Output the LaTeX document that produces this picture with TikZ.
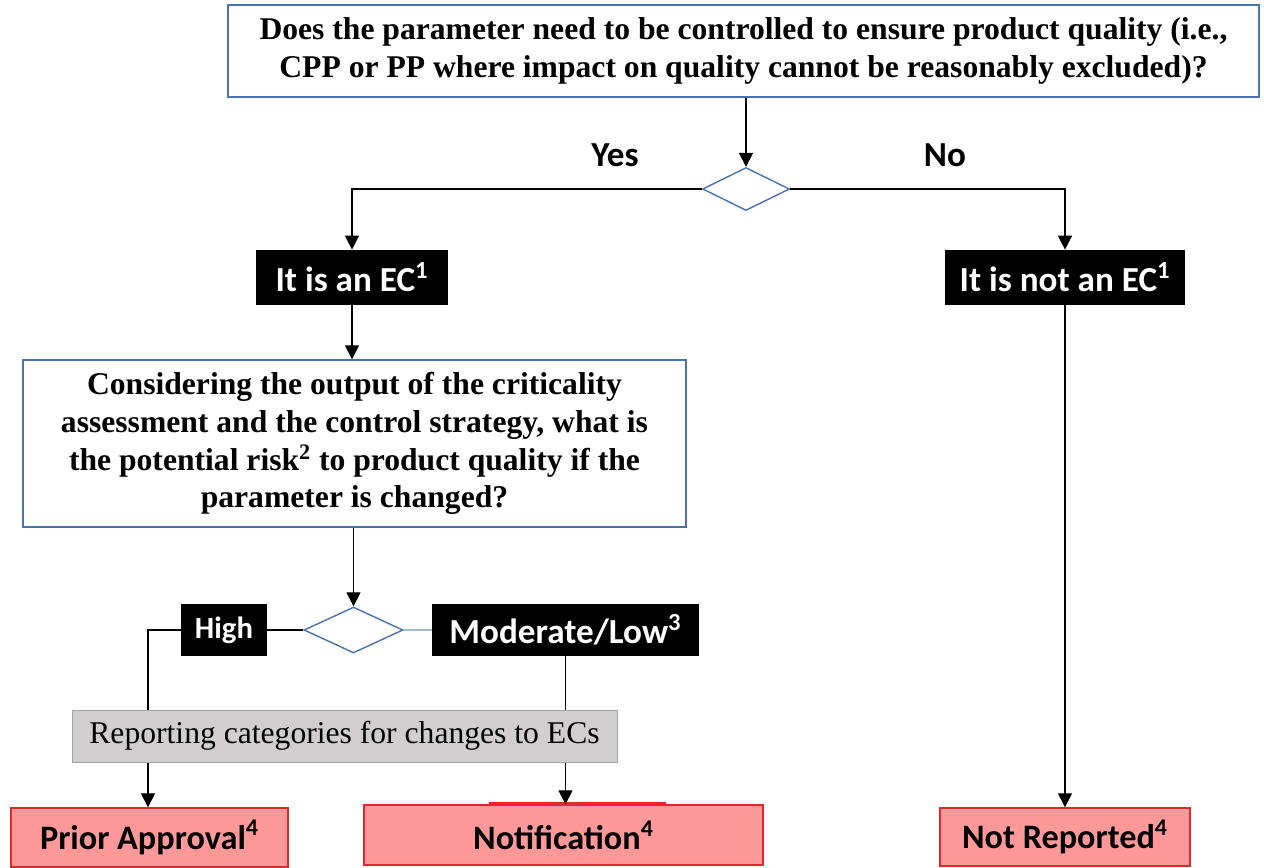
\documentclass[tikz,border=0pt]{standalone}
\usepackage{fontspec}
\setmainfont{Liberation Serif}
\newfontfamily\calfont{Carlito}
\usetikzlibrary{arrows.meta,positioning,shapes.geometric}
\definecolor{qblue}{HTML}{4A72B0}
\definecolor{rptred}{HTML}{FF9999}
\definecolor{rptedge}{HTML}{DD2A2E}
\definecolor{rptgrey}{HTML}{D0CECE}
\tikzset{
  question/.style={draw=qblue, line width=0.8pt, fill=white, align=center,
    font=\fontsize{18}{21.5}\selectfont\bfseries},
  decision/.style={diamond, draw=qblue, line width=0.8pt, inner sep=0pt, fill=white},
  answer/.style={fill=black, text=white, inner sep=0pt,
    font=\calfont\bfseries\fontsize{20}{22}\selectfont},
  outcome/.style={fill=rptred, draw=rptedge, line width=0.8pt, inner sep=0pt,
    font=\calfont\bfseries\fontsize{19.5}{22}\selectfont},
  label/.style={font=\calfont\bfseries\fontsize{20}{22}\selectfont},
  flow/.style={-{Triangle[width=8pt,length=8pt]}, line width=0.8pt},
  link/.style={line width=0.8pt}
}
\begin{document}
\begin{tikzpicture}[x=0.02cm, y=-0.02cm]
\useasboundingbox (0,0) rectangle (1264,867);

% questions and decisions
\node[question, minimum width=20.62cm, minimum height=1.84cm] (param) at (743.5,51)
  {Does the parameter need to be controlled to ensure product quality (i.e.,\\
   CPP or PP where impact on quality cannot be reasonably excluded)?};
\node[decision, minimum width=1.74cm, minimum height=0.86cm] (dec_ec) at (746,189) {};
\node[label] (yes) at (615,155) {Yes};
\node[label] (no) at (945,155) {No};

\node[answer, minimum width=3.84cm, minimum height=1.1cm] (is_ec) at (352,277.5) {It is an EC\textsuperscript{1}};
\node[answer, minimum width=4.8cm, minimum height=1.1cm] (not_ec) at (1065,277.5) {It is not an EC\textsuperscript{1}};

\node[question, minimum width=13.26cm, minimum height=3.34cm] (risk) at (354.5,443.5)
  {Considering the output of the criticality\\
   assessment and the control strategy, what is\\
   the potential risk\textsuperscript{2} to product quality if the\\
   parameter is changed?};
\node[decision, minimum width=1.98cm, minimum height=0.92cm] (dec_risk) at (353.5,630) {};

\node[answer, minimum width=1.72cm, minimum height=1.04cm, font=\calfont\bfseries\fontsize{17.5}{20}\selectfont] (high) at (224,630) {High};
\node[answer, minimum width=5.34cm, minimum height=1.04cm] (modlow) at (565.5,630) {Moderate/Low\textsuperscript{3}};

% reporting outcomes
\draw[fill=rptred, draw=rptedge, line width=0.8pt] (490,803) rectangle (665,830);
\node[outcome, minimum width=5.54cm, minimum height=1.18cm] (prior) at (149.5,837.5) {Prior Approval\textsuperscript{4}};
\node[outcome, minimum width=7.98cm, minimum height=1.2cm] (notif) at (563.5,835) {Notification\textsuperscript{4}};
\node[outcome, minimum width=5cm, minimum height=1.16cm] (notrep) at (1065,837) {Not Reported\textsuperscript{4}};

\coordinate (high_turn) at (148,630);

% connectors
\draw[flow] (param.south -| dec_ec.north) -- (dec_ec.north);
\draw[flow] (dec_ec.west) -| (is_ec.north);
\draw[flow] (dec_ec.east) -| (not_ec.north);
\draw[flow] (is_ec.south) -- (is_ec.south |- risk.north);
\draw[flow] (risk.south -| dec_risk.north) -- (dec_risk.north);
\draw[link] (dec_risk.west) -- (high.east);
\draw[link, draw=qblue!50] (dec_risk.east) -- (modlow.west);
\draw[flow] (high.west) -- (high_turn) -- (high_turn |- prior.north);
\draw[flow] (modlow.south) -- (modlow.south |- notif.north);
\draw[flow] (not_ec.south) -- (not_ec.south |- notrep.north);

\node[fill=rptgrey, draw=rptgrey!80!black, line width=0.4pt, minimum width=10.9cm, minimum height=1.04cm,
  font=\fontsize{18}{20}\selectfont] (categories) at (344.5,736) {Reporting categories for changes to ECs};
\end{tikzpicture}
\end{document}
